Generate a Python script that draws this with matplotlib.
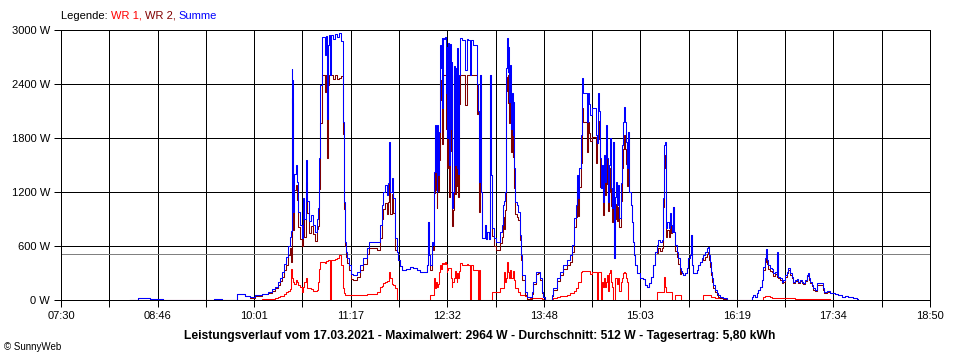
import matplotlib
matplotlib.use("Agg")
import matplotlib.pyplot as plt
import numpy as np

plt.rcParams['font.family'] = ['Liberation Sans', 'DejaVu Sans']

# Zeit in Minuten seit Mitternacht
minuten = [
    504.0, 510.3, 519.6, 524.3, 529.8, 569.7, 576.0, 579.9, 587.7, 594.0,
    597.9, 601.8, 607.3, 612.0, 615.1, 617.5, 619.8, 621.4, 622.9, 624.5,
    626.1, 627.6, 629.2, 630.0, 630.5, 631.0, 631.8, 632.7, 633.9, 634.7,
    635.5, 637.0, 638.2, 639.4, 640.5, 641.7, 642.5, 643.7, 645.6, 647.2,
    648.8, 650.3, 651.1, 652.1, 652.7, 654.0, 655.8, 656.6, 657.4, 658.1,
    658.9, 659.7, 660.5, 661.3, 662.8, 664.4, 666.0, 667.5, 669.1, 670.4,
    670.9, 671.7, 672.2, 673.0, 674.0, 675.6, 676.9, 678.7, 681.4, 684.0,
    686.6, 689.2, 691.0, 697.3, 699.6, 701.0, 702.0, 703.5, 704.9, 705.6,
    706.9, 707.4, 708.8, 710.0, 711.4, 712.7, 713.9, 715.3, 716.6, 720.0,
    723.1, 725.4, 728.3, 730.9, 734.8, 736.2, 737.4, 738.2, 738.7, 740.1,
    741.3, 741.9, 742.7, 743.4, 744.0, 744.5, 745.2, 746.0, 746.6, 747.4,
    747.9, 748.4, 748.7, 749.9, 750.5, 751.3, 751.8, 752.4, 753.1, 753.6,
    754.4, 754.9, 755.7, 756.2, 757.0, 757.5, 758.3, 758.9, 759.5, 760.1,
    760.7, 761.4, 762.2, 763.5, 764.6, 766.1, 767.5, 768.7, 770.3, 770.8,
    772.2, 775.9, 776.5, 777.1, 777.9, 778.7, 779.7, 781.8, 782.6, 783.6,
    784.7, 785.7, 786.5, 787.0, 789.1, 790.4, 793.5, 794.9, 796.1, 796.9,
    797.4, 798.2, 798.8, 799.5, 800.0, 800.8, 801.3, 802.1, 802.9, 803.5,
    803.9, 804.5, 805.3, 806.6, 807.8, 809.2, 810.0, 811.0, 813.1, 814.4,
    817.0, 818.3, 819.6, 821.7, 823.5, 824.8, 826.2, 827.4, 828.7, 834.0,
    835.2, 837.9, 840.5, 843.1, 845.7, 848.3, 849.6, 851.7, 852.8, 853.5,
    854.8, 855.6, 856.7, 857.5, 857.9, 858.7, 860.8, 861.4, 861.8, 862.4,
    862.9, 864.0, 865.3, 868.6, 869.4, 870.2, 871.0, 871.8, 872.3, 873.1,
    873.9, 874.9, 875.7, 876.5, 877.5, 878.3, 879.0, 879.6, 880.4, 881.2,
    882.2, 882.7, 883.5, 884.3, 885.3, 886.1, 886.9, 888.0, 888.8, 889.5,
    890.3, 890.8, 891.6, 892.4, 893.1, 893.9, 894.7, 895.8, 896.6, 897.4,
    898.4, 899.4, 901.0, 903.1, 905.2, 907.0, 908.8, 910.4, 911.4, 913.0,
    914.8, 916.1, 917.4, 918.7, 920.1, 921.3, 922.1, 922.9, 923.4, 924.4,
    925.5, 926.5, 927.3, 928.1, 929.1, 929.9, 930.7, 931.8, 933.0, 934.4,
    934.9, 935.7, 937.0, 938.3, 939.6, 940.9, 942.2, 943.0, 943.8, 944.8,
    946.1, 947.4, 948.7, 950.0, 951.4, 952.6, 953.9, 955.3, 956.1, 957.1,
    957.9, 958.6, 959.4, 960.4, 961.8, 963.1, 964.3, 965.7, 968.3, 970.9,
    972.2, 989.2, 990.5, 991.7, 993.1, 994.4, 995.6, 997.0, 998.3, 999.6,
    1000.9, 1001.7, 1002.5, 1003.5, 1004.8, 1006.1, 1007.4, 1008.7, 1010.0, 1010.5,
    1011.3, 1012.6, 1014.0, 1015.2, 1016.5, 1017.9, 1019.1, 1020.5, 1021.8, 1023.0,
    1024.4, 1025.7, 1027.0, 1028.3, 1029.6, 1030.9, 1032.2, 1033.5, 1034.3, 1035.1,
    1036.1, 1037.4, 1038.7, 1040.0, 1041.3, 1045.3, 1046.0, 1047.1, 1049.2, 1051.8,
    1055.7, 1058.2, 1060.9, 1063.5, 1066.1, 1070.0, 1072.6, 1073.9,
]

# WR 1 (rot)
wr1 = [
    0, 0, 0, 0, 0, 0, 0, 0, 0, 3,
    3, 5, 8, 12, 15, 20, 30, 40, 50, 70,
    90, 100, 120, 350, 330, 250, 200, 180, 220, 200,
    170, 150, 92, 150, 200, 244, 133, 130, 120, 100,
    100, 110, 200, 350, 420, 420, 420, 411, 430, 430,
    440, 450, 0, 444, 444, 460, 467, 500, 389, 389,
    133, 80, 55, 55, 55, 55, 55, 55, 55, 60,
    60, 65, 65, 92, 148, 160, 189, 200, 211, 211,
    315, 250, 180, 167, 133, 0, 0, 0, 0, 0,
    0, 0, 0, 0, 0, 0, 0, 0, 55, 55,
    55, 241, 130, 200, 180, 150, 180, 315, 389, 350,
    415, 400, 415, 400, 426, 400, 315, 330, 352, 352,
    352, 241, 148, 200, 204, 250, 320, 250, 200, 300,
    250, 320, 407, 389, 389, 389, 400, 389, 0, 389,
    333, 333, 0, 333, 0, 0, 0, 0, 0, 0,
    0, 0, 0, 92, 92, 92, 130, 130, 130, 315,
    200, 250, 426, 350, 315, 240, 333, 250, 250, 240,
    322, 222, 133, 133, 92, 55, 55, 55, 40, 30,
    22, 22, 22, 22, 20, 20, 10, 5, 0, 10,
    22, 30, 40, 50, 55, 74, 74, 100, 130, 130,
    204, 204, 315, 326, 326, 326, 326, 326, 326, 326,
    326, 290, 315, 315, 0, 315, 315, 315, 0, 200,
    150, 250, 150, 200, 280, 100, 300, 333, 200, 150,
    0, 0, 250, 250, 180, 250, 100, 200, 250, 300,
    315, 315, 300, 250, 200, 0, 0, 0, 0, 0,
    0, 0, 0, 0, 0, 0, 0, 0, 0, 0,
    0, 92, 92, 92, 92, 92, 259, 150, 92, 92,
    92, 92, 92, 0, 0, 0, 61, 61, 61, 61,
    0, 0, 0, 0, 0, 0, 0, 0, 0, 0,
    0, 0, 0, 0, 0, 61, 61, 61, 61, 61,
    61, 37, 37, 37, 20, 20, 20, 20, 10, 5,
    0, 0, 0, 0, 0, 0, 0, 0, 0, 37,
    44, 44, 44, 44, 30, 26, 26, 26, 26, 26,
    20, 20, 20, 20, 20, 20, 20, 20, 20, 20,
    15, 15, 15, 15, 15, 15, 15, 15, 15, 15,
    15, 15, 15, 15, 15, 15, 15, 15, 15, 0,
    0, 0, 0, 0, 0, 0, 0, 0,
]

# WR 2 (dunkelrot)
wr2 = [
    0, 20, 10, 15, 0, 15, 0, 5, 63, 47,
    27, 50, 62, 78, 105, 130, 170, 210, 261, 330,
    390, 500, 580, 420, 2240, 2190, 780, 1220, 1280, 1110,
    810, 680, 598, 980, 700, 1312, 967, 750, 820, 730,
    655, 790, 820, 1230, 1970, 2500, 2500, 2309, 2500, 1580,
    2390, 2500, 2500, 2500, 2456, 2500, 2453, 2464, 2491, 2301,
    1847, 1010, 595, 482, 412, 334, 235, 223, 260, 329,
    403, 513, 583, 558, 685, 896, 1011, 1078, 956, 1089,
    1444, 954, 1176, 966, 556, 537, 450, 380, 333, 340,
    370, 352, 330, 315, 315, 389, 870, 500, 334, 593,
    556, 1185, 1814, 1226, 1024, 1794, 1209, 1555, 2444, 2224,
    2492, 1730, 2500, 2500, 2500, 1900, 2500, 1470, 2500, 1148,
    2498, 1659, 2500, 819, 996, 2350, 1180, 2324, 1267, 2500,
    1150, 2180, 2500, 2500, 2500, 2167, 2500, 2500, 2500, 2500,
    2500, 2067, 2100, 982, 2500, 1204, 685, 833, 680, 759,
    680, 2500, 1389, 708, 597, 556, 629, 703, 926, 785,
    1004, 2324, 2481, 2187, 2500, 1964, 2278, 1650, 2050, 1593,
    1882, 1241, 959, 923, 889, 667, 445, 223, 52, 7,
    15, 70, 182, 293, 295, 221, 82, 32, 0, 45,
    108, 211, 275, 339, 389, 426, 537, 807, 926, 1259,
    929, 1259, 1518, 1989, 2137, 1974, 1974, 1804, 1649, 1974,
    1854, 1766, 1815, 1518, 1750, 1985, 1785, 1259, 1241, 1300,
    942, 1361, 1165, 1744, 1294, 992, 1200, 1463, 1050, 869,
    1759, 463, 900, 1065, 876, 1028, 807, 1100, 1472, 1681,
    1704, 1833, 1681, 1509, 1263, 1870, 1204, 1056, 870, 648,
    500, 389, 296, 241, 230, 167, 148, 185, 259, 389,
    537, 519, 575, 548, 575, 1038, 1463, 1609, 704, 778,
    704, 871, 741, 759, 1037, 759, 550, 476, 402, 291,
    320, 296, 280, 296, 352, 463, 500, 722, 389, 296,
    296, 333, 389, 426, 463, 439, 476, 513, 531, 439,
    365, 278, 204, 130, 91, 54, 35, 17, 10, 0,
    0, 0, 37, 55, 30, 74, 111, 148, 222, 333,
    419, 519, 400, 345, 322, 314, 270, 289, 254, 511,
    239, 221, 184, 202, 258, 295, 332, 276, 239, 184,
    207, 215, 189, 207, 189, 178, 207, 263, 281, 226,
    189, 152, 115, 96, 170, 170, 115, 77, 85, 81,
    63, 55, 37, 44, 30, 18, 10, 0,
]

# Summe (blau)
summe = [
    0, 20, 10, 15, 0, 15, 0, 5, 63, 50,
    30, 55, 70, 90, 120, 150, 200, 250, 311, 400,
    480, 600, 700, 770, 2570, 2440, 980, 1400, 1500, 1310,
    980, 830, 690, 1130, 900, 1556, 1100, 880, 940, 830,
    755, 900, 1020, 1580, 2390, 2920, 2920, 2720, 2930, 2010,
    2830, 2950, 2500, 2944, 2900, 2960, 2920, 2964, 2880, 2690,
    1980, 1090, 650, 537, 467, 389, 290, 278, 315, 389,
    463, 578, 648, 650, 833, 1056, 1200, 1278, 1167, 1300,
    1759, 1204, 1356, 1133, 689, 537, 450, 380, 333, 340,
    370, 352, 330, 315, 315, 389, 870, 500, 389, 648,
    611, 1426, 1944, 1426, 1204, 1944, 1389, 1870, 2833, 2574,
    2907, 2130, 2915, 2900, 2926, 2300, 2815, 1800, 2852, 1500,
    2850, 1900, 2648, 1019, 1200, 2600, 1500, 2574, 1467, 2800,
    1400, 2500, 2907, 2889, 2889, 2556, 2900, 2889, 2500, 2889,
    2833, 2400, 2100, 1315, 2500, 1204, 685, 833, 680, 759,
    680, 2500, 1389, 800, 689, 648, 759, 833, 1056, 1100,
    1204, 2574, 2907, 2537, 2815, 2204, 2611, 1900, 2300, 1833,
    2204, 1463, 1092, 1056, 981, 722, 500, 278, 92, 37,
    37, 92, 204, 315, 315, 241, 92, 37, 0, 55,
    130, 241, 315, 389, 444, 500, 611, 907, 1056, 1389,
    1133, 1463, 1833, 2315, 2463, 2300, 2300, 2130, 1975, 2300,
    2180, 2056, 2130, 1833, 1750, 2300, 2100, 1574, 1241, 1500,
    1092, 1611, 1315, 1944, 1574, 1092, 1500, 1796, 1250, 1019,
    1759, 463, 1150, 1315, 1056, 1278, 907, 1300, 1722, 1981,
    2019, 2148, 1981, 1759, 1463, 1870, 1204, 1056, 870, 648,
    500, 389, 296, 241, 230, 167, 148, 185, 259, 389,
    537, 611, 667, 640, 667, 1130, 1722, 1759, 796, 870,
    796, 963, 833, 759, 1037, 759, 611, 537, 463, 352,
    320, 296, 280, 296, 352, 463, 500, 722, 389, 296,
    296, 333, 389, 426, 463, 500, 537, 574, 592, 500,
    426, 315, 241, 167, 111, 74, 55, 37, 20, 5,
    0, 0, 37, 55, 30, 74, 111, 148, 222, 370,
    463, 563, 444, 389, 352, 340, 296, 315, 280, 537,
    259, 241, 204, 222, 278, 315, 352, 296, 259, 204,
    222, 230, 204, 222, 204, 193, 222, 278, 296, 241,
    204, 167, 130, 111, 185, 185, 130, 92, 100, 81,
    63, 55, 37, 44, 30, 18, 10, 0,
]

durchschnitt = 512
zeit_labels = ["07:30", "08:46", "10:01", "11:17", "12:32",
               "13:48", "15:03", "16:19", "17:34", "18:50"]
y_werte = [0, 600, 1200, 1800, 2400, 3000]
titel = ("Leistungsverlauf vom 17.03.2021 - Maximalwert: 2964 W - "
         "Durchschnitt: 512 W - Tagesertrag: 5,80 kWh")

LW = 0.72  # etwa 1 Pixel

fig = plt.figure(figsize=(9.6, 3.6), dpi=100)
ax = fig.add_axes([61 / 960, 60 / 360, 869 / 960, 270 / 360])

# Gitter alle 37,8 min, Beschriftung jede zweite Linie
x_grid = np.linspace(450, 1130, 19)
labels = []
for i in range(19):
    labels.append(zeit_labels[i // 2] if i % 2 == 0 else "")
ax.set_xticks(x_grid)
ax.set_xticklabels(labels)
ax.set_yticks(y_werte)
ax.set_yticklabels([f"{v} W" for v in y_werte])
ax.set_xlim(450, 1130)
ax.set_ylim(0, 3000)
ax.tick_params(axis='both', length=5, width=LW, color='black', labelsize=8, pad=3)
ax.grid(True, color='black', lw=LW, antialiased=False)
ax.set_axisbelow(True)
for s in ax.spines.values():
    s.set_color('black')
    s.set_linewidth(LW)
    s.set_antialiased(False)

ax.axhline(durchschnitt, color='#808080', lw=LW, zorder=1.5, antialiased=False)

for werte, farbe, z in [(wr1, '#FF0000', 2), (wr2, '#800000', 3), (summe, '#0000FF', 4)]:
    ax.plot(minuten, werte, drawstyle='steps-post', color=farbe, lw=0.75,
            antialiased=True, snap=True, zorder=z)

# Legende als farbige Textstuecke
renderer = fig.canvas.get_renderer()
x = 61 / 960
for txt, col in [("Legende: ", 'black'), ("WR 1, ", '#FF0000'),
                 ("WR 2, ", '#800000'), ("Summe", '#0000FF')]:
    t = fig.text(x, 1 - 16 / 360, txt, color=col, fontsize=8, va='center', ha='left')
    bb = t.get_window_extent(renderer=renderer)
    x += bb.width / fig.bbox.width

fig.text(480 / 960, 1 - 336 / 360, titel, fontsize=8.7, fontweight='bold',
         ha='center', va='center')
fig.text(4 / 960, 1 - 347 / 360, "\u00a9 SunnyWeb", fontsize=7, ha='left', va='center')

fig.savefig("out.png", dpi=100)
